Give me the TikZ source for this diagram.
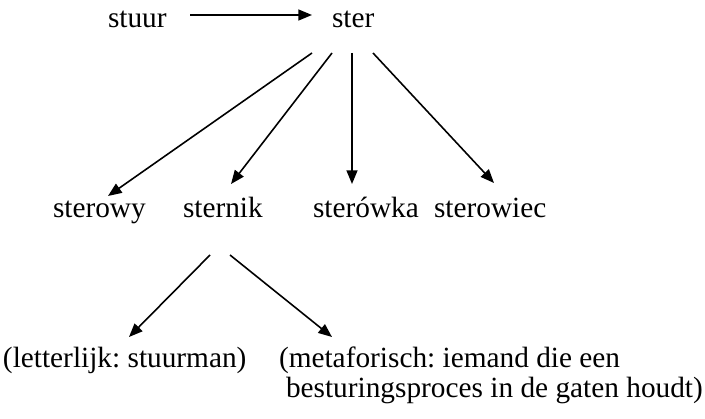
\documentclass[tikz,border=0pt]{standalone}
\usepackage{fontspec}
\setmainfont{Liberation Serif}
\usetikzlibrary{arrows.meta,calc}
\begin{document}
\frenchspacing
\begin{tikzpicture}[x=0.44pt,y=-0.44pt,
  word/.style={anchor=base west,inner sep=0pt,outer sep=0pt,font=\rmfamily\fontsize{12.9}{15}\selectfont},
  arr/.style={line width=0.7pt,-{Triangle[length=6pt,width=4.8pt]}}]
\useasboundingbox (0,0) rectangle (705,419);
\node[word] (stuur) at (108,28) {stuur};
\node[word] (ster) at (332,28) {ster};
\node[word] (sterowy) at (53,217) {sterowy};
\node[word] (sternik) at (183,217) {sternik};
\node[word] (sterowka) at (313,217) {sterówka};
\node[word] (sterowiec) at (434,217) {sterowiec};
\node[word] (lit) at (3,367) {(letterlijk: stuurman)};
\node[word] (meta) at (279,367) {(metaforisch: iemand die een};
\node[word] (meta2) at (286,397) {besturingsproces in de gaten houdt)};
\draw[arr] ($(stuur.base west)+(82,-13)$) -- ($(ster.base west)+(-20,-13)$);
\draw[arr] ($(ster.base west)+(-20,25)$) -- ($(sterowy.base west)+(55,-21)$);
\draw[arr] ($(ster.base west)+(0,25)$) -- ($(sternik.base west)+(48,-33)$);
\draw[arr] ($(ster.base west)+(20,25)$) -- ($(sterowka.base west)+(39,-33)$);
\draw[arr] ($(ster.base west)+(41,25)$) -- ($(sterowiec.base west)+(60,-34)$);
\draw[arr] ($(sternik.base west)+(27,38)$) -- ($(lit.base west)+(126,-30)$);
\draw[arr] ($(sternik.base west)+(47,38)$) -- ($(meta.base west)+(53,-30)$);
\end{tikzpicture}
\end{document}
